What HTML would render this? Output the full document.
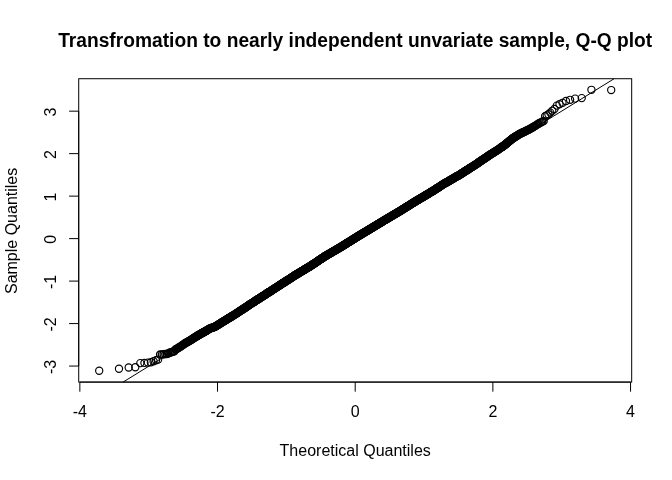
<!DOCTYPE html>
<html><head><meta charset="utf-8"><style>
html,body{margin:0;padding:0;background:#fff;overflow:hidden}
svg{display:block;filter:grayscale(1);font-family:"Liberation Sans",sans-serif}
</style></head><body>
<svg xmlns="http://www.w3.org/2000/svg" width="672" height="480" viewBox="0 0 672 480">
<rect width="672" height="480" fill="#fff"/>
<rect x="78.72" y="78.72" width="552.96" height="303.36" fill="none" stroke="#000" stroke-width="1"/><path d="M79.85 382.08H630.55M79.85 382.08V391.68M217.53 382.08V391.68M355.2 382.08V391.68M492.87 382.08V391.68M630.55 382.08V391.68" stroke="#000" stroke-width="1" fill="none"/><path d="M78.72 366.06V111.16M78.72 111.16H69.12M78.72 153.64H69.12M78.72 196.13H69.12M78.72 238.61H69.12M78.72 281.1H69.12M78.72 323.58H69.12M78.72 366.06H69.12" stroke="#000" stroke-width="1" fill="none"/><g fill="none" stroke="#000" stroke-width="1.3"><circle cx="160.13" cy="354.60" r="3.6"/><circle cx="161.97" cy="354.50" r="3.6"/><circle cx="163.69" cy="354.30" r="3.6"/><circle cx="165.29" cy="354.00" r="3.6"/><circle cx="166.79" cy="354.10" r="3.6"/><circle cx="168.21" cy="353.40" r="3.6"/><circle cx="169.56" cy="352.80" r="3.6"/><circle cx="170.84" cy="352.30" r="3.6"/><circle cx="172.05" cy="352.00" r="3.6"/><circle cx="173.22" cy="351.60" r="3.6"/><circle cx="174.33" cy="351.20" r="3.6"/><circle cx="175.40" cy="349.59" r="3.6"/><circle cx="176.42" cy="348.99" r="3.6"/><circle cx="177.41" cy="348.42" r="3.6"/><circle cx="178.36" cy="347.87" r="3.6"/><circle cx="179.28" cy="347.34" r="3.6"/><circle cx="180.17" cy="346.80" r="3.6"/><circle cx="181.03" cy="346.19" r="3.6"/><circle cx="181.86" cy="345.59" r="3.6"/><circle cx="182.67" cy="345.01" r="3.6"/><circle cx="183.46" cy="344.44" r="3.6"/><circle cx="184.23" cy="343.89" r="3.6"/><circle cx="184.97" cy="343.36" r="3.6"/><circle cx="185.69" cy="342.95" r="3.6"/><circle cx="186.40" cy="342.56" r="3.6"/><circle cx="187.09" cy="342.17" r="3.6"/><circle cx="187.76" cy="341.80" r="3.6"/><circle cx="188.42" cy="341.43" r="3.6"/><circle cx="189.06" cy="341.07" r="3.6"/><circle cx="189.69" cy="340.72" r="3.6"/><circle cx="190.31" cy="340.35" r="3.6"/><circle cx="190.91" cy="339.95" r="3.6"/><circle cx="191.50" cy="339.56" r="3.6"/><circle cx="192.07" cy="339.18" r="3.6"/><circle cx="192.64" cy="338.81" r="3.6"/><circle cx="193.20" cy="338.45" r="3.6"/><circle cx="193.74" cy="338.09" r="3.6"/><circle cx="194.28" cy="337.73" r="3.6"/><circle cx="194.80" cy="337.39" r="3.6"/><circle cx="195.32" cy="337.07" r="3.6"/><circle cx="195.83" cy="336.76" r="3.6"/><circle cx="196.33" cy="336.46" r="3.6"/><circle cx="196.82" cy="336.16" r="3.6"/><circle cx="197.30" cy="335.87" r="3.6"/><circle cx="197.78" cy="335.58" r="3.6"/><circle cx="198.24" cy="335.30" r="3.6"/><circle cx="198.70" cy="335.02" r="3.6"/><circle cx="199.16" cy="334.75" r="3.6"/><circle cx="199.61" cy="334.48" r="3.6"/><circle cx="200.05" cy="334.21" r="3.6"/><circle cx="200.48" cy="333.98" r="3.6"/><circle cx="200.91" cy="333.74" r="3.6"/><circle cx="201.33" cy="333.51" r="3.6"/><circle cx="201.75" cy="333.28" r="3.6"/><circle cx="202.16" cy="333.06" r="3.6"/><circle cx="202.57" cy="332.83" r="3.6"/><circle cx="202.97" cy="332.61" r="3.6"/><circle cx="203.36" cy="332.40" r="3.6"/><circle cx="203.75" cy="332.18" r="3.6"/><circle cx="204.14" cy="331.97" r="3.6"/><circle cx="204.52" cy="331.76" r="3.6"/><circle cx="204.90" cy="331.56" r="3.6"/><circle cx="205.27" cy="331.34" r="3.6"/><circle cx="205.64" cy="331.11" r="3.6"/><circle cx="206.00" cy="330.89" r="3.6"/><circle cx="206.36" cy="330.67" r="3.6"/><circle cx="206.71" cy="330.45" r="3.6"/><circle cx="207.07" cy="330.23" r="3.6"/><circle cx="207.41" cy="330.02" r="3.6"/><circle cx="207.76" cy="329.81" r="3.6"/><circle cx="208.43" cy="329.39" r="3.6"/><circle cx="209.10" cy="328.99" r="3.6"/><circle cx="209.75" cy="328.59" r="3.6"/><circle cx="210.38" cy="328.30" r="3.6"/><circle cx="211.01" cy="328.09" r="3.6"/><circle cx="211.62" cy="327.88" r="3.6"/><circle cx="212.23" cy="327.68" r="3.6"/><circle cx="212.82" cy="327.47" r="3.6"/><circle cx="213.40" cy="327.28" r="3.6"/><circle cx="213.97" cy="327.08" r="3.6"/><circle cx="214.53" cy="326.89" r="3.6"/><circle cx="215.08" cy="326.68" r="3.6"/><circle cx="215.63" cy="326.34" r="3.6"/><circle cx="216.16" cy="326.00" r="3.6"/><circle cx="216.69" cy="325.66" r="3.6"/><circle cx="217.21" cy="325.33" r="3.6"/><circle cx="217.72" cy="325.01" r="3.6"/><circle cx="218.22" cy="324.69" r="3.6"/><circle cx="218.72" cy="324.38" r="3.6"/><circle cx="219.21" cy="324.07" r="3.6"/><circle cx="219.69" cy="323.76" r="3.6"/><circle cx="220.16" cy="323.46" r="3.6"/><circle cx="220.63" cy="323.17" r="3.6"/><circle cx="221.10" cy="322.89" r="3.6"/><circle cx="221.56" cy="322.61" r="3.6"/><circle cx="222.01" cy="322.33" r="3.6"/><circle cx="222.45" cy="322.06" r="3.6"/><circle cx="222.89" cy="321.79" r="3.6"/><circle cx="223.33" cy="321.52" r="3.6"/><circle cx="223.76" cy="321.26" r="3.6"/><circle cx="224.18" cy="321.00" r="3.6"/><circle cx="224.60" cy="320.74" r="3.6"/><circle cx="225.02" cy="320.48" r="3.6"/><circle cx="225.43" cy="320.23" r="3.6"/><circle cx="225.83" cy="319.98" r="3.6"/><circle cx="226.23" cy="319.74" r="3.6"/><circle cx="226.63" cy="319.49" r="3.6"/><circle cx="227.02" cy="319.25" r="3.6"/><circle cx="227.41" cy="319.01" r="3.6"/><circle cx="227.80" cy="318.78" r="3.6"/><circle cx="228.18" cy="318.54" r="3.6"/><circle cx="228.56" cy="318.31" r="3.6"/><circle cx="228.93" cy="318.08" r="3.6"/><circle cx="229.30" cy="317.86" r="3.6"/><circle cx="229.66" cy="317.63" r="3.6"/><circle cx="230.03" cy="317.41" r="3.6"/><circle cx="230.39" cy="317.19" r="3.6"/><circle cx="230.74" cy="316.97" r="3.6"/><circle cx="231.09" cy="316.75" r="3.6"/><circle cx="231.44" cy="316.54" r="3.6"/><circle cx="231.79" cy="316.33" r="3.6"/><circle cx="232.13" cy="316.12" r="3.6"/><circle cx="232.64" cy="315.81" r="3.6"/><circle cx="233.14" cy="315.50" r="3.6"/><circle cx="233.64" cy="315.19" r="3.6"/><circle cx="234.13" cy="314.89" r="3.6"/><circle cx="234.61" cy="314.60" r="3.6"/><circle cx="235.09" cy="314.30" r="3.6"/><circle cx="235.56" cy="313.99" r="3.6"/><circle cx="236.02" cy="313.68" r="3.6"/><circle cx="236.48" cy="313.37" r="3.6"/><circle cx="236.94" cy="313.07" r="3.6"/><circle cx="237.39" cy="312.77" r="3.6"/><circle cx="237.84" cy="312.47" r="3.6"/><circle cx="238.28" cy="312.18" r="3.6"/><circle cx="238.71" cy="311.89" r="3.6"/><circle cx="239.14" cy="311.60" r="3.6"/><circle cx="239.57" cy="311.32" r="3.6"/><circle cx="239.99" cy="311.04" r="3.6"/><circle cx="240.41" cy="310.76" r="3.6"/><circle cx="240.82" cy="310.49" r="3.6"/><circle cx="241.23" cy="310.21" r="3.6"/><circle cx="241.64" cy="309.94" r="3.6"/><circle cx="242.04" cy="309.68" r="3.6"/><circle cx="242.44" cy="309.41" r="3.6"/><circle cx="242.83" cy="309.15" r="3.6"/><circle cx="243.22" cy="308.89" r="3.6"/><circle cx="243.61" cy="308.63" r="3.6"/><circle cx="243.99" cy="308.38" r="3.6"/><circle cx="244.37" cy="308.13" r="3.6"/><circle cx="244.75" cy="307.88" r="3.6"/><circle cx="245.12" cy="307.63" r="3.6"/><circle cx="245.49" cy="307.38" r="3.6"/><circle cx="245.86" cy="307.14" r="3.6"/><circle cx="246.23" cy="306.90" r="3.6"/><circle cx="246.59" cy="306.66" r="3.6"/><circle cx="246.94" cy="306.42" r="3.6"/><circle cx="247.30" cy="306.18" r="3.6"/><circle cx="247.65" cy="305.95" r="3.6"/><circle cx="248.00" cy="305.72" r="3.6"/><circle cx="248.35" cy="305.49" r="3.6"/><circle cx="248.69" cy="305.26" r="3.6"/><circle cx="249.03" cy="305.03" r="3.6"/><circle cx="249.37" cy="304.81" r="3.6"/><circle cx="249.71" cy="304.58" r="3.6"/><circle cx="250.04" cy="304.36" r="3.6"/><circle cx="250.48" cy="304.08" r="3.6"/><circle cx="250.92" cy="303.80" r="3.6"/><circle cx="251.35" cy="303.52" r="3.6"/><circle cx="251.78" cy="303.24" r="3.6"/><circle cx="252.21" cy="302.97" r="3.6"/><circle cx="252.63" cy="302.69" r="3.6"/><circle cx="253.04" cy="302.43" r="3.6"/><circle cx="253.46" cy="302.16" r="3.6"/><circle cx="253.87" cy="301.89" r="3.6"/><circle cx="254.27" cy="301.63" r="3.6"/><circle cx="254.68" cy="301.37" r="3.6"/><circle cx="255.08" cy="301.12" r="3.6"/><circle cx="255.47" cy="300.86" r="3.6"/><circle cx="255.86" cy="300.61" r="3.6"/><circle cx="256.25" cy="300.36" r="3.6"/><circle cx="256.64" cy="300.11" r="3.6"/><circle cx="257.02" cy="299.86" r="3.6"/><circle cx="257.40" cy="299.62" r="3.6"/><circle cx="257.78" cy="299.37" r="3.6"/><circle cx="258.15" cy="299.13" r="3.6"/><circle cx="258.53" cy="298.89" r="3.6"/><circle cx="258.89" cy="298.65" r="3.6"/><circle cx="259.26" cy="298.42" r="3.6"/><circle cx="259.62" cy="298.18" r="3.6"/><circle cx="259.98" cy="297.95" r="3.6"/><circle cx="260.34" cy="297.72" r="3.6"/><circle cx="260.70" cy="297.49" r="3.6"/><circle cx="261.05" cy="297.26" r="3.6"/><circle cx="261.40" cy="297.04" r="3.6"/><circle cx="261.75" cy="296.81" r="3.6"/><circle cx="262.10" cy="296.59" r="3.6"/><circle cx="262.44" cy="296.37" r="3.6"/><circle cx="262.78" cy="296.15" r="3.6"/><circle cx="263.12" cy="295.93" r="3.6"/><circle cx="263.46" cy="295.71" r="3.6"/><circle cx="263.87" cy="295.44" r="3.6"/><circle cx="264.29" cy="295.18" r="3.6"/><circle cx="264.70" cy="294.91" r="3.6"/><circle cx="265.11" cy="294.65" r="3.6"/><circle cx="265.51" cy="294.39" r="3.6"/><circle cx="265.91" cy="294.13" r="3.6"/><circle cx="266.31" cy="293.87" r="3.6"/><circle cx="266.71" cy="293.62" r="3.6"/><circle cx="267.10" cy="293.36" r="3.6"/><circle cx="267.49" cy="293.11" r="3.6"/><circle cx="267.88" cy="292.86" r="3.6"/><circle cx="268.26" cy="292.61" r="3.6"/><circle cx="268.64" cy="292.37" r="3.6"/><circle cx="269.02" cy="292.12" r="3.6"/><circle cx="269.40" cy="291.88" r="3.6"/><circle cx="269.77" cy="291.64" r="3.6"/><circle cx="270.14" cy="291.40" r="3.6"/><circle cx="270.51" cy="291.16" r="3.6"/><circle cx="270.88" cy="290.92" r="3.6"/><circle cx="271.24" cy="290.69" r="3.6"/><circle cx="271.61" cy="290.46" r="3.6"/><circle cx="271.97" cy="290.22" r="3.6"/><circle cx="272.32" cy="289.99" r="3.6"/><circle cx="272.68" cy="289.77" r="3.6"/><circle cx="273.03" cy="289.54" r="3.6"/><circle cx="273.38" cy="289.31" r="3.6"/><circle cx="273.73" cy="289.09" r="3.6"/><circle cx="274.08" cy="288.86" r="3.6"/><circle cx="274.42" cy="288.64" r="3.6"/><circle cx="274.76" cy="288.42" r="3.6"/><circle cx="275.10" cy="288.20" r="3.6"/><circle cx="275.44" cy="287.98" r="3.6"/><circle cx="275.78" cy="287.77" r="3.6"/><circle cx="276.18" cy="287.51" r="3.6"/><circle cx="276.58" cy="287.25" r="3.6"/><circle cx="276.98" cy="286.99" r="3.6"/><circle cx="277.37" cy="286.74" r="3.6"/><circle cx="277.76" cy="286.49" r="3.6"/><circle cx="278.15" cy="286.24" r="3.6"/><circle cx="278.54" cy="285.99" r="3.6"/><circle cx="278.92" cy="285.74" r="3.6"/><circle cx="279.30" cy="285.50" r="3.6"/><circle cx="279.68" cy="285.25" r="3.6"/><circle cx="280.06" cy="285.01" r="3.6"/><circle cx="280.43" cy="284.76" r="3.6"/><circle cx="280.80" cy="284.52" r="3.6"/><circle cx="281.17" cy="284.28" r="3.6"/><circle cx="281.54" cy="284.04" r="3.6"/><circle cx="281.91" cy="283.81" r="3.6"/><circle cx="282.27" cy="283.57" r="3.6"/><circle cx="282.63" cy="283.33" r="3.6"/><circle cx="282.99" cy="283.10" r="3.6"/><circle cx="283.35" cy="282.87" r="3.6"/><circle cx="283.71" cy="282.64" r="3.6"/><circle cx="284.06" cy="282.41" r="3.6"/><circle cx="284.41" cy="282.18" r="3.6"/><circle cx="284.76" cy="281.95" r="3.6"/><circle cx="285.11" cy="281.72" r="3.6"/><circle cx="285.46" cy="281.50" r="3.6"/><circle cx="285.80" cy="281.28" r="3.6"/><circle cx="286.15" cy="281.05" r="3.6"/><circle cx="286.49" cy="280.83" r="3.6"/><circle cx="286.83" cy="280.61" r="3.6"/><circle cx="287.17" cy="280.39" r="3.6"/><circle cx="287.50" cy="280.17" r="3.6"/><circle cx="287.90" cy="279.92" r="3.6"/><circle cx="288.28" cy="279.67" r="3.6"/><circle cx="288.67" cy="279.42" r="3.6"/><circle cx="289.05" cy="279.17" r="3.6"/><circle cx="289.44" cy="278.92" r="3.6"/><circle cx="289.82" cy="278.67" r="3.6"/><circle cx="290.20" cy="278.43" r="3.6"/><circle cx="290.57" cy="278.18" r="3.6"/><circle cx="290.95" cy="277.94" r="3.6"/><circle cx="291.32" cy="277.70" r="3.6"/><circle cx="291.69" cy="277.46" r="3.6"/><circle cx="292.06" cy="277.22" r="3.6"/><circle cx="292.43" cy="276.98" r="3.6"/><circle cx="292.79" cy="276.74" r="3.6"/><circle cx="293.15" cy="276.51" r="3.6"/><circle cx="293.52" cy="276.27" r="3.6"/><circle cx="293.88" cy="276.04" r="3.6"/><circle cx="294.23" cy="275.80" r="3.6"/><circle cx="294.59" cy="275.57" r="3.6"/><circle cx="294.95" cy="275.34" r="3.6"/><circle cx="295.30" cy="275.13" r="3.6"/><circle cx="295.65" cy="274.91" r="3.6"/><circle cx="296.00" cy="274.70" r="3.6"/><circle cx="296.35" cy="274.49" r="3.6"/><circle cx="296.70" cy="274.28" r="3.6"/><circle cx="297.04" cy="274.08" r="3.6"/><circle cx="297.39" cy="273.87" r="3.6"/><circle cx="297.73" cy="273.66" r="3.6"/><circle cx="298.12" cy="273.43" r="3.6"/><circle cx="298.51" cy="273.19" r="3.6"/><circle cx="298.90" cy="272.96" r="3.6"/><circle cx="299.28" cy="272.73" r="3.6"/><circle cx="299.66" cy="272.50" r="3.6"/><circle cx="300.05" cy="272.27" r="3.6"/><circle cx="300.43" cy="272.04" r="3.6"/><circle cx="300.80" cy="271.81" r="3.6"/><circle cx="301.18" cy="271.58" r="3.6"/><circle cx="301.56" cy="271.36" r="3.6"/><circle cx="301.93" cy="271.13" r="3.6"/><circle cx="302.30" cy="270.91" r="3.6"/><circle cx="302.67" cy="270.69" r="3.6"/><circle cx="303.04" cy="270.46" r="3.6"/><circle cx="303.41" cy="270.24" r="3.6"/><circle cx="303.77" cy="270.02" r="3.6"/><circle cx="304.14" cy="269.80" r="3.6"/><circle cx="304.50" cy="269.58" r="3.6"/><circle cx="304.86" cy="269.37" r="3.6"/><circle cx="305.22" cy="269.15" r="3.6"/><circle cx="305.58" cy="268.93" r="3.6"/><circle cx="305.94" cy="268.72" r="3.6"/><circle cx="306.29" cy="268.50" r="3.6"/><circle cx="306.65" cy="268.29" r="3.6"/><circle cx="307.00" cy="268.08" r="3.6"/><circle cx="307.35" cy="267.86" r="3.6"/><circle cx="307.70" cy="267.65" r="3.6"/><circle cx="308.05" cy="267.44" r="3.6"/><circle cx="308.40" cy="267.23" r="3.6"/><circle cx="308.75" cy="267.02" r="3.6"/><circle cx="309.09" cy="266.81" r="3.6"/><circle cx="309.44" cy="266.61" r="3.6"/><circle cx="309.78" cy="266.40" r="3.6"/><circle cx="310.13" cy="266.19" r="3.6"/><circle cx="310.47" cy="265.96" r="3.6"/><circle cx="310.81" cy="265.73" r="3.6"/><circle cx="311.15" cy="265.50" r="3.6"/><circle cx="311.49" cy="265.28" r="3.6"/><circle cx="311.82" cy="265.05" r="3.6"/><circle cx="312.16" cy="264.83" r="3.6"/><circle cx="312.49" cy="264.61" r="3.6"/><circle cx="312.83" cy="264.38" r="3.6"/><circle cx="313.16" cy="264.16" r="3.6"/><circle cx="313.54" cy="263.91" r="3.6"/><circle cx="313.91" cy="263.66" r="3.6"/><circle cx="314.28" cy="263.42" r="3.6"/><circle cx="314.65" cy="263.17" r="3.6"/><circle cx="315.02" cy="262.93" r="3.6"/><circle cx="315.39" cy="262.68" r="3.6"/><circle cx="315.75" cy="262.44" r="3.6"/><circle cx="316.12" cy="262.19" r="3.6"/><circle cx="316.48" cy="261.95" r="3.6"/><circle cx="316.85" cy="261.71" r="3.6"/><circle cx="317.21" cy="261.47" r="3.6"/><circle cx="317.57" cy="261.23" r="3.6"/><circle cx="317.93" cy="260.99" r="3.6"/><circle cx="318.29" cy="260.75" r="3.6"/><circle cx="318.65" cy="260.51" r="3.6"/><circle cx="319.00" cy="260.27" r="3.6"/><circle cx="319.36" cy="260.03" r="3.6"/><circle cx="319.71" cy="259.79" r="3.6"/><circle cx="320.07" cy="259.56" r="3.6"/><circle cx="320.42" cy="259.32" r="3.6"/><circle cx="320.77" cy="259.09" r="3.6"/><circle cx="321.13" cy="258.85" r="3.6"/><circle cx="321.48" cy="258.62" r="3.6"/><circle cx="321.83" cy="258.39" r="3.6"/><circle cx="322.18" cy="258.15" r="3.6"/><circle cx="322.52" cy="257.92" r="3.6"/><circle cx="322.87" cy="257.69" r="3.6"/><circle cx="323.22" cy="257.46" r="3.6"/><circle cx="323.56" cy="257.23" r="3.6"/><circle cx="323.91" cy="257.00" r="3.6"/><circle cx="324.25" cy="256.77" r="3.6"/><circle cx="324.59" cy="256.54" r="3.6"/><circle cx="324.94" cy="256.31" r="3.6"/><circle cx="325.32" cy="256.09" r="3.6"/><circle cx="325.70" cy="255.87" r="3.6"/><circle cx="326.07" cy="255.64" r="3.6"/><circle cx="326.45" cy="255.42" r="3.6"/><circle cx="326.83" cy="255.20" r="3.6"/><circle cx="327.20" cy="254.99" r="3.6"/><circle cx="327.58" cy="254.77" r="3.6"/><circle cx="327.95" cy="254.55" r="3.6"/><circle cx="328.32" cy="254.33" r="3.6"/><circle cx="328.69" cy="254.11" r="3.6"/><circle cx="329.07" cy="253.90" r="3.6"/><circle cx="329.44" cy="253.68" r="3.6"/><circle cx="329.81" cy="253.46" r="3.6"/><circle cx="330.18" cy="253.25" r="3.6"/><circle cx="330.54" cy="253.03" r="3.6"/><circle cx="330.91" cy="252.82" r="3.6"/><circle cx="331.28" cy="252.60" r="3.6"/><circle cx="331.64" cy="252.39" r="3.6"/><circle cx="332.01" cy="252.18" r="3.6"/><circle cx="332.37" cy="251.96" r="3.6"/><circle cx="332.74" cy="251.75" r="3.6"/><circle cx="333.10" cy="251.54" r="3.6"/><circle cx="333.47" cy="251.32" r="3.6"/><circle cx="333.83" cy="251.11" r="3.6"/><circle cx="334.19" cy="250.90" r="3.6"/><circle cx="334.55" cy="250.69" r="3.6"/><circle cx="334.91" cy="250.48" r="3.6"/><circle cx="335.27" cy="250.27" r="3.6"/><circle cx="335.63" cy="250.06" r="3.6"/><circle cx="335.99" cy="249.85" r="3.6"/><circle cx="336.35" cy="249.64" r="3.6"/><circle cx="336.71" cy="249.43" r="3.6"/><circle cx="337.06" cy="249.22" r="3.6"/><circle cx="337.42" cy="249.01" r="3.6"/><circle cx="337.78" cy="248.80" r="3.6"/><circle cx="338.13" cy="248.60" r="3.6"/><circle cx="338.49" cy="248.39" r="3.6"/><circle cx="338.85" cy="248.18" r="3.6"/><circle cx="339.20" cy="247.97" r="3.6"/><circle cx="339.55" cy="247.77" r="3.6"/><circle cx="339.91" cy="247.56" r="3.6"/><circle cx="340.26" cy="247.34" r="3.6"/><circle cx="340.61" cy="247.12" r="3.6"/><circle cx="340.97" cy="246.90" r="3.6"/><circle cx="341.32" cy="246.68" r="3.6"/><circle cx="341.67" cy="246.46" r="3.6"/><circle cx="342.02" cy="246.24" r="3.6"/><circle cx="342.37" cy="246.02" r="3.6"/><circle cx="342.73" cy="245.80" r="3.6"/><circle cx="343.08" cy="245.58" r="3.6"/><circle cx="343.43" cy="245.37" r="3.6"/><circle cx="343.78" cy="245.15" r="3.6"/><circle cx="344.13" cy="244.93" r="3.6"/><circle cx="344.48" cy="244.71" r="3.6"/><circle cx="344.83" cy="244.49" r="3.6"/><circle cx="345.17" cy="244.27" r="3.6"/><circle cx="345.52" cy="244.06" r="3.6"/><circle cx="345.87" cy="243.84" r="3.6"/><circle cx="346.22" cy="243.62" r="3.6"/><circle cx="346.57" cy="243.40" r="3.6"/><circle cx="346.92" cy="243.19" r="3.6"/><circle cx="347.26" cy="242.97" r="3.6"/><circle cx="347.61" cy="242.75" r="3.6"/><circle cx="347.96" cy="242.54" r="3.6"/><circle cx="348.30" cy="242.32" r="3.6"/><circle cx="348.65" cy="242.10" r="3.6"/><circle cx="349.00" cy="241.89" r="3.6"/><circle cx="349.34" cy="241.67" r="3.6"/><circle cx="349.69" cy="241.46" r="3.6"/><circle cx="350.04" cy="241.24" r="3.6"/><circle cx="350.38" cy="241.02" r="3.6"/><circle cx="350.73" cy="240.81" r="3.6"/><circle cx="351.07" cy="240.59" r="3.6"/><circle cx="351.42" cy="240.38" r="3.6"/><circle cx="351.76" cy="240.16" r="3.6"/><circle cx="352.11" cy="239.94" r="3.6"/><circle cx="352.46" cy="239.73" r="3.6"/><circle cx="352.80" cy="239.51" r="3.6"/><circle cx="353.15" cy="239.30" r="3.6"/><circle cx="353.49" cy="239.08" r="3.6"/><circle cx="353.84" cy="238.87" r="3.6"/><circle cx="354.18" cy="238.65" r="3.6"/><circle cx="354.53" cy="238.44" r="3.6"/><circle cx="354.87" cy="238.22" r="3.6"/><circle cx="355.22" cy="238.00" r="3.6"/><circle cx="355.56" cy="237.79" r="3.6"/><circle cx="355.91" cy="237.57" r="3.6"/><circle cx="356.25" cy="237.36" r="3.6"/><circle cx="356.60" cy="237.14" r="3.6"/><circle cx="356.94" cy="236.93" r="3.6"/><circle cx="357.29" cy="236.71" r="3.6"/><circle cx="357.63" cy="236.50" r="3.6"/><circle cx="357.98" cy="236.28" r="3.6"/><circle cx="358.32" cy="236.06" r="3.6"/><circle cx="358.67" cy="235.85" r="3.6"/><circle cx="359.02" cy="235.63" r="3.6"/><circle cx="359.36" cy="235.42" r="3.6"/><circle cx="359.71" cy="235.20" r="3.6"/><circle cx="360.05" cy="234.99" r="3.6"/><circle cx="360.40" cy="234.78" r="3.6"/><circle cx="360.74" cy="234.57" r="3.6"/><circle cx="361.09" cy="234.37" r="3.6"/><circle cx="361.44" cy="234.16" r="3.6"/><circle cx="361.78" cy="233.95" r="3.6"/><circle cx="362.13" cy="233.75" r="3.6"/><circle cx="362.48" cy="233.54" r="3.6"/><circle cx="362.82" cy="233.33" r="3.6"/><circle cx="363.17" cy="233.13" r="3.6"/><circle cx="363.52" cy="232.92" r="3.6"/><circle cx="363.87" cy="232.71" r="3.6"/><circle cx="364.22" cy="232.50" r="3.6"/><circle cx="364.56" cy="232.29" r="3.6"/><circle cx="364.91" cy="232.09" r="3.6"/><circle cx="365.26" cy="231.88" r="3.6"/><circle cx="365.61" cy="231.67" r="3.6"/><circle cx="365.96" cy="231.46" r="3.6"/><circle cx="366.31" cy="231.25" r="3.6"/><circle cx="366.66" cy="231.04" r="3.6"/><circle cx="367.01" cy="230.84" r="3.6"/><circle cx="367.36" cy="230.63" r="3.6"/><circle cx="367.71" cy="230.42" r="3.6"/><circle cx="368.06" cy="230.21" r="3.6"/><circle cx="368.41" cy="230.00" r="3.6"/><circle cx="368.76" cy="229.79" r="3.6"/><circle cx="369.12" cy="229.58" r="3.6"/><circle cx="369.47" cy="229.37" r="3.6"/><circle cx="369.82" cy="229.16" r="3.6"/><circle cx="370.17" cy="228.94" r="3.6"/><circle cx="370.53" cy="228.73" r="3.6"/><circle cx="370.88" cy="228.52" r="3.6"/><circle cx="371.24" cy="228.30" r="3.6"/><circle cx="371.59" cy="228.08" r="3.6"/><circle cx="371.95" cy="227.87" r="3.6"/><circle cx="372.30" cy="227.65" r="3.6"/><circle cx="372.66" cy="227.44" r="3.6"/><circle cx="373.01" cy="227.22" r="3.6"/><circle cx="373.37" cy="227.00" r="3.6"/><circle cx="373.73" cy="226.79" r="3.6"/><circle cx="374.09" cy="226.57" r="3.6"/><circle cx="374.45" cy="226.35" r="3.6"/><circle cx="374.80" cy="226.13" r="3.6"/><circle cx="375.16" cy="225.91" r="3.6"/><circle cx="375.52" cy="225.70" r="3.6"/><circle cx="375.89" cy="225.48" r="3.6"/><circle cx="376.25" cy="225.26" r="3.6"/><circle cx="376.61" cy="225.04" r="3.6"/><circle cx="376.97" cy="224.82" r="3.6"/><circle cx="377.33" cy="224.60" r="3.6"/><circle cx="377.70" cy="224.38" r="3.6"/><circle cx="378.06" cy="224.16" r="3.6"/><circle cx="378.43" cy="223.93" r="3.6"/><circle cx="378.79" cy="223.71" r="3.6"/><circle cx="379.16" cy="223.49" r="3.6"/><circle cx="379.53" cy="223.27" r="3.6"/><circle cx="379.89" cy="223.04" r="3.6"/><circle cx="380.26" cy="222.82" r="3.6"/><circle cx="380.63" cy="222.60" r="3.6"/><circle cx="381.00" cy="222.37" r="3.6"/><circle cx="381.37" cy="222.15" r="3.6"/><circle cx="381.74" cy="221.92" r="3.6"/><circle cx="382.11" cy="221.69" r="3.6"/><circle cx="382.49" cy="221.47" r="3.6"/><circle cx="382.86" cy="221.24" r="3.6"/><circle cx="383.24" cy="221.01" r="3.6"/><circle cx="383.61" cy="220.79" r="3.6"/><circle cx="383.99" cy="220.56" r="3.6"/><circle cx="384.36" cy="220.33" r="3.6"/><circle cx="384.74" cy="220.10" r="3.6"/><circle cx="385.12" cy="219.87" r="3.6"/><circle cx="385.50" cy="219.65" r="3.6"/><circle cx="385.88" cy="219.42" r="3.6"/><circle cx="386.26" cy="219.19" r="3.6"/><circle cx="386.61" cy="218.99" r="3.6"/><circle cx="386.95" cy="218.78" r="3.6"/><circle cx="387.30" cy="218.58" r="3.6"/><circle cx="387.65" cy="218.37" r="3.6"/><circle cx="387.99" cy="218.17" r="3.6"/><circle cx="388.34" cy="217.96" r="3.6"/><circle cx="388.69" cy="217.75" r="3.6"/><circle cx="389.04" cy="217.55" r="3.6"/><circle cx="389.39" cy="217.34" r="3.6"/><circle cx="389.74" cy="217.13" r="3.6"/><circle cx="390.10" cy="216.92" r="3.6"/><circle cx="390.45" cy="216.71" r="3.6"/><circle cx="390.80" cy="216.50" r="3.6"/><circle cx="391.16" cy="216.29" r="3.6"/><circle cx="391.52" cy="216.08" r="3.6"/><circle cx="391.87" cy="215.87" r="3.6"/><circle cx="392.23" cy="215.65" r="3.6"/><circle cx="392.59" cy="215.44" r="3.6"/><circle cx="392.95" cy="215.23" r="3.6"/><circle cx="393.31" cy="215.01" r="3.6"/><circle cx="393.68" cy="214.80" r="3.6"/><circle cx="394.04" cy="214.58" r="3.6"/><circle cx="394.40" cy="214.36" r="3.6"/><circle cx="394.77" cy="214.15" r="3.6"/><circle cx="395.14" cy="213.93" r="3.6"/><circle cx="395.51" cy="213.71" r="3.6"/><circle cx="395.87" cy="213.49" r="3.6"/><circle cx="396.24" cy="213.27" r="3.6"/><circle cx="396.62" cy="213.05" r="3.6"/><circle cx="396.99" cy="212.83" r="3.6"/><circle cx="397.36" cy="212.61" r="3.6"/><circle cx="397.74" cy="212.39" r="3.6"/><circle cx="398.12" cy="212.16" r="3.6"/><circle cx="398.49" cy="211.94" r="3.6"/><circle cx="398.87" cy="211.71" r="3.6"/><circle cx="399.25" cy="211.49" r="3.6"/><circle cx="399.63" cy="211.26" r="3.6"/><circle cx="400.02" cy="211.03" r="3.6"/><circle cx="400.36" cy="210.82" r="3.6"/><circle cx="400.70" cy="210.61" r="3.6"/><circle cx="401.05" cy="210.39" r="3.6"/><circle cx="401.39" cy="210.17" r="3.6"/><circle cx="401.74" cy="209.96" r="3.6"/><circle cx="402.09" cy="209.74" r="3.6"/><circle cx="402.43" cy="209.52" r="3.6"/><circle cx="402.78" cy="209.30" r="3.6"/><circle cx="403.14" cy="209.08" r="3.6"/><circle cx="403.49" cy="208.86" r="3.6"/><circle cx="403.84" cy="208.64" r="3.6"/><circle cx="404.20" cy="208.41" r="3.6"/><circle cx="404.55" cy="208.19" r="3.6"/><circle cx="404.91" cy="207.97" r="3.6"/><circle cx="405.27" cy="207.74" r="3.6"/><circle cx="405.63" cy="207.51" r="3.6"/><circle cx="405.99" cy="207.29" r="3.6"/><circle cx="406.35" cy="207.06" r="3.6"/><circle cx="406.72" cy="206.83" r="3.6"/><circle cx="407.09" cy="206.60" r="3.6"/><circle cx="407.45" cy="206.37" r="3.6"/><circle cx="407.82" cy="206.14" r="3.6"/><circle cx="408.19" cy="205.91" r="3.6"/><circle cx="408.56" cy="205.67" r="3.6"/><circle cx="408.94" cy="205.44" r="3.6"/><circle cx="409.31" cy="205.20" r="3.6"/><circle cx="409.69" cy="204.97" r="3.6"/><circle cx="410.07" cy="204.73" r="3.6"/><circle cx="410.45" cy="204.49" r="3.6"/><circle cx="410.83" cy="204.25" r="3.6"/><circle cx="411.21" cy="204.01" r="3.6"/><circle cx="411.60" cy="203.77" r="3.6"/><circle cx="411.99" cy="203.53" r="3.6"/><circle cx="412.33" cy="203.31" r="3.6"/><circle cx="412.67" cy="203.10" r="3.6"/><circle cx="413.01" cy="202.89" r="3.6"/><circle cx="413.36" cy="202.67" r="3.6"/><circle cx="413.70" cy="202.45" r="3.6"/><circle cx="414.05" cy="202.23" r="3.6"/><circle cx="414.40" cy="202.02" r="3.6"/><circle cx="414.75" cy="201.80" r="3.6"/><circle cx="415.10" cy="201.58" r="3.6"/><circle cx="415.45" cy="201.37" r="3.6"/><circle cx="415.81" cy="201.16" r="3.6"/><circle cx="416.17" cy="200.95" r="3.6"/><circle cx="416.52" cy="200.73" r="3.6"/><circle cx="416.88" cy="200.52" r="3.6"/><circle cx="417.25" cy="200.30" r="3.6"/><circle cx="417.61" cy="200.09" r="3.6"/><circle cx="417.97" cy="199.87" r="3.6"/><circle cx="418.34" cy="199.65" r="3.6"/><circle cx="418.71" cy="199.43" r="3.6"/><circle cx="419.08" cy="199.21" r="3.6"/><circle cx="419.45" cy="198.99" r="3.6"/><circle cx="419.83" cy="198.77" r="3.6"/><circle cx="420.20" cy="198.55" r="3.6"/><circle cx="420.58" cy="198.32" r="3.6"/><circle cx="420.96" cy="198.10" r="3.6"/><circle cx="421.35" cy="197.87" r="3.6"/><circle cx="421.73" cy="197.64" r="3.6"/><circle cx="422.12" cy="197.41" r="3.6"/><circle cx="422.50" cy="197.18" r="3.6"/><circle cx="422.90" cy="196.95" r="3.6"/><circle cx="423.29" cy="196.72" r="3.6"/><circle cx="423.68" cy="196.48" r="3.6"/><circle cx="424.08" cy="196.25" r="3.6"/><circle cx="424.48" cy="196.01" r="3.6"/><circle cx="424.82" cy="195.80" r="3.6"/><circle cx="425.17" cy="195.60" r="3.6"/><circle cx="425.52" cy="195.39" r="3.6"/><circle cx="425.87" cy="195.18" r="3.6"/><circle cx="426.22" cy="194.98" r="3.6"/><circle cx="426.57" cy="194.77" r="3.6"/><circle cx="426.93" cy="194.55" r="3.6"/><circle cx="427.29" cy="194.34" r="3.6"/><circle cx="427.65" cy="194.13" r="3.6"/><circle cx="428.01" cy="193.91" r="3.6"/><circle cx="428.37" cy="193.70" r="3.6"/><circle cx="428.74" cy="193.48" r="3.6"/><circle cx="429.10" cy="193.26" r="3.6"/><circle cx="429.47" cy="193.04" r="3.6"/><circle cx="429.84" cy="192.82" r="3.6"/><circle cx="430.22" cy="192.59" r="3.6"/><circle cx="430.59" cy="192.35" r="3.6"/><circle cx="430.97" cy="192.11" r="3.6"/><circle cx="431.35" cy="191.87" r="3.6"/><circle cx="431.74" cy="191.63" r="3.6"/><circle cx="432.12" cy="191.38" r="3.6"/><circle cx="432.51" cy="191.14" r="3.6"/><circle cx="432.90" cy="190.89" r="3.6"/><circle cx="433.29" cy="190.64" r="3.6"/><circle cx="433.69" cy="190.39" r="3.6"/><circle cx="434.09" cy="190.14" r="3.6"/><circle cx="434.49" cy="189.88" r="3.6"/><circle cx="434.89" cy="189.63" r="3.6"/><circle cx="435.23" cy="189.41" r="3.6"/><circle cx="435.57" cy="189.20" r="3.6"/><circle cx="435.91" cy="188.98" r="3.6"/><circle cx="436.25" cy="188.76" r="3.6"/><circle cx="436.60" cy="188.54" r="3.6"/><circle cx="436.95" cy="188.32" r="3.6"/><circle cx="437.30" cy="188.10" r="3.6"/><circle cx="437.65" cy="187.88" r="3.6"/><circle cx="438.01" cy="187.65" r="3.6"/><circle cx="438.36" cy="187.42" r="3.6"/><circle cx="438.72" cy="187.20" r="3.6"/><circle cx="439.08" cy="186.97" r="3.6"/><circle cx="439.45" cy="186.74" r="3.6"/><circle cx="439.81" cy="186.50" r="3.6"/><circle cx="440.18" cy="186.27" r="3.6"/><circle cx="440.55" cy="186.04" r="3.6"/><circle cx="440.93" cy="185.80" r="3.6"/><circle cx="441.30" cy="185.56" r="3.6"/><circle cx="441.68" cy="185.32" r="3.6"/><circle cx="442.06" cy="185.08" r="3.6"/><circle cx="442.45" cy="184.83" r="3.6"/><circle cx="442.83" cy="184.59" r="3.6"/><circle cx="443.22" cy="184.34" r="3.6"/><circle cx="443.61" cy="184.09" r="3.6"/><circle cx="444.01" cy="183.84" r="3.6"/><circle cx="444.41" cy="183.59" r="3.6"/><circle cx="444.81" cy="183.34" r="3.6"/><circle cx="445.21" cy="183.09" r="3.6"/><circle cx="445.62" cy="182.85" r="3.6"/><circle cx="446.03" cy="182.62" r="3.6"/><circle cx="446.44" cy="182.38" r="3.6"/><circle cx="446.86" cy="182.14" r="3.6"/><circle cx="447.28" cy="181.89" r="3.6"/><circle cx="447.71" cy="181.65" r="3.6"/><circle cx="448.13" cy="181.40" r="3.6"/><circle cx="448.56" cy="181.15" r="3.6"/><circle cx="448.91" cy="180.95" r="3.6"/><circle cx="449.26" cy="180.75" r="3.6"/><circle cx="449.61" cy="180.54" r="3.6"/><circle cx="449.97" cy="180.34" r="3.6"/><circle cx="450.33" cy="180.13" r="3.6"/><circle cx="450.69" cy="179.92" r="3.6"/><circle cx="451.05" cy="179.71" r="3.6"/><circle cx="451.41" cy="179.50" r="3.6"/><circle cx="451.78" cy="179.29" r="3.6"/><circle cx="452.15" cy="179.07" r="3.6"/><circle cx="452.53" cy="178.86" r="3.6"/><circle cx="452.90" cy="178.64" r="3.6"/><circle cx="453.28" cy="178.42" r="3.6"/><circle cx="453.66" cy="178.20" r="3.6"/><circle cx="454.05" cy="177.97" r="3.6"/><circle cx="454.44" cy="177.75" r="3.6"/><circle cx="454.83" cy="177.52" r="3.6"/><circle cx="455.23" cy="177.29" r="3.6"/><circle cx="455.62" cy="177.06" r="3.6"/><circle cx="456.03" cy="176.83" r="3.6"/><circle cx="456.43" cy="176.59" r="3.6"/><circle cx="456.84" cy="176.36" r="3.6"/><circle cx="457.25" cy="176.12" r="3.6"/><circle cx="457.67" cy="175.88" r="3.6"/><circle cx="458.09" cy="175.63" r="3.6"/><circle cx="458.51" cy="175.39" r="3.6"/><circle cx="458.94" cy="175.14" r="3.6"/><circle cx="459.37" cy="174.89" r="3.6"/><circle cx="459.81" cy="174.64" r="3.6"/><circle cx="460.25" cy="174.37" r="3.6"/><circle cx="460.69" cy="174.09" r="3.6"/><circle cx="461.14" cy="173.80" r="3.6"/><circle cx="461.48" cy="173.59" r="3.6"/><circle cx="461.82" cy="173.37" r="3.6"/><circle cx="462.17" cy="173.15" r="3.6"/><circle cx="462.52" cy="172.93" r="3.6"/><circle cx="462.87" cy="172.70" r="3.6"/><circle cx="463.22" cy="172.48" r="3.6"/><circle cx="463.57" cy="172.25" r="3.6"/><circle cx="463.93" cy="172.03" r="3.6"/><circle cx="464.30" cy="171.80" r="3.6"/><circle cx="464.66" cy="171.56" r="3.6"/><circle cx="465.03" cy="171.33" r="3.6"/><circle cx="465.40" cy="171.09" r="3.6"/><circle cx="465.77" cy="170.85" r="3.6"/><circle cx="466.15" cy="170.61" r="3.6"/><circle cx="466.53" cy="170.37" r="3.6"/><circle cx="466.92" cy="170.13" r="3.6"/><circle cx="467.31" cy="169.88" r="3.6"/><circle cx="467.70" cy="169.63" r="3.6"/><circle cx="468.09" cy="169.38" r="3.6"/><circle cx="468.49" cy="169.13" r="3.6"/><circle cx="468.90" cy="168.87" r="3.6"/><circle cx="469.30" cy="168.61" r="3.6"/><circle cx="469.71" cy="168.35" r="3.6"/><circle cx="470.13" cy="168.09" r="3.6"/><circle cx="470.55" cy="167.82" r="3.6"/><circle cx="470.97" cy="167.55" r="3.6"/><circle cx="471.40" cy="167.28" r="3.6"/><circle cx="471.83" cy="167.00" r="3.6"/><circle cx="472.27" cy="166.72" r="3.6"/><circle cx="472.71" cy="166.44" r="3.6"/><circle cx="473.16" cy="166.16" r="3.6"/><circle cx="473.61" cy="165.87" r="3.6"/><circle cx="474.07" cy="165.58" r="3.6"/><circle cx="474.53" cy="165.29" r="3.6"/><circle cx="475.00" cy="164.99" r="3.6"/><circle cx="475.47" cy="164.67" r="3.6"/><circle cx="475.95" cy="164.34" r="3.6"/><circle cx="476.44" cy="164.01" r="3.6"/><circle cx="476.93" cy="163.68" r="3.6"/><circle cx="477.26" cy="163.45" r="3.6"/><circle cx="477.59" cy="163.22" r="3.6"/><circle cx="477.93" cy="162.99" r="3.6"/><circle cx="478.27" cy="162.76" r="3.6"/><circle cx="478.61" cy="162.53" r="3.6"/><circle cx="478.96" cy="162.29" r="3.6"/><circle cx="479.31" cy="162.06" r="3.6"/><circle cx="479.66" cy="161.82" r="3.6"/><circle cx="480.01" cy="161.57" r="3.6"/><circle cx="480.37" cy="161.33" r="3.6"/><circle cx="480.74" cy="161.08" r="3.6"/><circle cx="481.10" cy="160.83" r="3.6"/><circle cx="481.47" cy="160.58" r="3.6"/><circle cx="481.84" cy="160.33" r="3.6"/><circle cx="482.22" cy="160.07" r="3.6"/><circle cx="482.60" cy="159.81" r="3.6"/><circle cx="482.99" cy="159.55" r="3.6"/><circle cx="483.38" cy="159.28" r="3.6"/><circle cx="483.77" cy="159.02" r="3.6"/><circle cx="484.17" cy="158.75" r="3.6"/><circle cx="484.57" cy="158.47" r="3.6"/><circle cx="484.97" cy="158.20" r="3.6"/><circle cx="485.38" cy="157.92" r="3.6"/><circle cx="485.80" cy="157.63" r="3.6"/><circle cx="486.22" cy="157.35" r="3.6"/><circle cx="486.64" cy="157.06" r="3.6"/><circle cx="487.07" cy="156.77" r="3.6"/><circle cx="487.51" cy="156.47" r="3.6"/><circle cx="487.95" cy="156.17" r="3.6"/><circle cx="488.39" cy="155.87" r="3.6"/><circle cx="488.84" cy="155.56" r="3.6"/><circle cx="489.30" cy="155.25" r="3.6"/><circle cx="489.77" cy="154.93" r="3.6"/><circle cx="490.24" cy="154.62" r="3.6"/><circle cx="490.71" cy="154.33" r="3.6"/><circle cx="491.19" cy="154.02" r="3.6"/><circle cx="491.68" cy="153.72" r="3.6"/><circle cx="492.18" cy="153.41" r="3.6"/><circle cx="492.68" cy="153.09" r="3.6"/><circle cx="493.19" cy="152.77" r="3.6"/><circle cx="493.71" cy="152.44" r="3.6"/><circle cx="494.24" cy="152.11" r="3.6"/><circle cx="494.77" cy="151.78" r="3.6"/><circle cx="495.32" cy="151.44" r="3.6"/><circle cx="495.87" cy="151.09" r="3.6"/><circle cx="496.43" cy="150.74" r="3.6"/><circle cx="497.00" cy="150.38" r="3.6"/><circle cx="497.58" cy="150.01" r="3.6"/><circle cx="498.17" cy="149.59" r="3.6"/><circle cx="498.78" cy="149.16" r="3.6"/><circle cx="499.39" cy="148.72" r="3.6"/><circle cx="500.02" cy="148.28" r="3.6"/><circle cx="500.65" cy="147.83" r="3.6"/><circle cx="501.30" cy="147.36" r="3.6"/><circle cx="501.63" cy="147.13" r="3.6"/><circle cx="501.97" cy="146.89" r="3.6"/><circle cx="502.30" cy="146.65" r="3.6"/><circle cx="502.64" cy="146.41" r="3.6"/><circle cx="502.99" cy="146.17" r="3.6"/><circle cx="503.33" cy="145.92" r="3.6"/><circle cx="503.69" cy="145.67" r="3.6"/><circle cx="504.04" cy="145.42" r="3.6"/><circle cx="504.40" cy="145.16" r="3.6"/><circle cx="504.76" cy="144.90" r="3.6"/><circle cx="505.13" cy="144.63" r="3.6"/><circle cx="505.50" cy="144.32" r="3.6"/><circle cx="505.88" cy="144.00" r="3.6"/><circle cx="506.26" cy="143.69" r="3.6"/><circle cx="506.65" cy="143.37" r="3.6"/><circle cx="507.04" cy="143.04" r="3.6"/><circle cx="507.43" cy="142.71" r="3.6"/><circle cx="507.83" cy="142.38" r="3.6"/><circle cx="508.24" cy="142.04" r="3.6"/><circle cx="508.65" cy="141.70" r="3.6"/><circle cx="509.07" cy="141.35" r="3.6"/><circle cx="509.49" cy="141.00" r="3.6"/><circle cx="509.92" cy="140.65" r="3.6"/><circle cx="510.35" cy="140.28" r="3.6"/><circle cx="510.79" cy="139.92" r="3.6"/><circle cx="511.24" cy="139.55" r="3.6"/><circle cx="511.70" cy="139.17" r="3.6"/><circle cx="512.16" cy="138.79" r="3.6"/><circle cx="512.62" cy="138.42" r="3.6"/><circle cx="513.10" cy="138.12" r="3.6"/><circle cx="513.58" cy="137.82" r="3.6"/><circle cx="514.07" cy="137.51" r="3.6"/><circle cx="514.57" cy="137.19" r="3.6"/><circle cx="515.08" cy="136.87" r="3.6"/><circle cx="515.60" cy="136.55" r="3.6"/><circle cx="516.12" cy="136.21" r="3.6"/><circle cx="516.66" cy="135.88" r="3.6"/><circle cx="517.20" cy="135.53" r="3.6"/><circle cx="517.76" cy="135.18" r="3.6"/><circle cx="518.33" cy="134.82" r="3.6"/><circle cx="518.90" cy="134.46" r="3.6"/><circle cx="519.49" cy="134.09" r="3.6"/><circle cx="520.09" cy="133.72" r="3.6"/><circle cx="520.71" cy="133.43" r="3.6"/><circle cx="521.34" cy="133.14" r="3.6"/><circle cx="521.98" cy="132.83" r="3.6"/><circle cx="522.64" cy="132.52" r="3.6"/><circle cx="523.31" cy="132.21" r="3.6"/><circle cx="524.00" cy="131.88" r="3.6"/><circle cx="524.71" cy="131.55" r="3.6"/><circle cx="525.43" cy="131.21" r="3.6"/><circle cx="526.17" cy="130.86" r="3.6"/><circle cx="526.94" cy="130.50" r="3.6"/><circle cx="527.73" cy="130.11" r="3.6"/><circle cx="528.54" cy="129.65" r="3.6"/><circle cx="529.37" cy="129.18" r="3.6"/><circle cx="530.23" cy="128.69" r="3.6"/><circle cx="531.12" cy="128.19" r="3.6"/><circle cx="532.04" cy="127.67" r="3.6"/><circle cx="532.99" cy="127.13" r="3.6"/><circle cx="533.98" cy="126.58" r="3.6"/><circle cx="535.00" cy="126.00" r="3.6"/><circle cx="536.07" cy="125.32" r="3.6"/><circle cx="537.18" cy="124.61" r="3.6"/><circle cx="538.35" cy="123.87" r="3.6"/><circle cx="539.56" cy="123.09" r="3.6"/><circle cx="540.84" cy="122.38" r="3.6"/><circle cx="542.19" cy="121.68" r="3.6"/><circle cx="543.61" cy="120.94" r="3.6"/></g><g fill="none" stroke="#000" stroke-width="1.15"><circle cx="99.20" cy="370.70" r="3.6"/><circle cx="118.98" cy="368.80" r="3.6"/><circle cx="128.69" cy="367.50" r="3.6"/><circle cx="135.29" cy="367.20" r="3.6"/><circle cx="140.33" cy="363.10" r="3.6"/><circle cx="144.44" cy="362.90" r="3.6"/><circle cx="147.90" cy="362.60" r="3.6"/><circle cx="150.91" cy="362.30" r="3.6"/><circle cx="153.57" cy="361.20" r="3.6"/><circle cx="155.97" cy="360.30" r="3.6"/><circle cx="158.14" cy="359.60" r="3.6"/><circle cx="545.11" cy="116.20" r="3.6"/><circle cx="546.71" cy="115.30" r="3.6"/><circle cx="548.43" cy="114.20" r="3.6"/><circle cx="550.27" cy="112.60" r="3.6"/><circle cx="552.26" cy="110.80" r="3.6"/><circle cx="554.43" cy="109.00" r="3.6"/><circle cx="556.83" cy="105.60" r="3.6"/><circle cx="559.49" cy="104.20" r="3.6"/><circle cx="562.50" cy="102.80" r="3.6"/><circle cx="565.96" cy="101.00" r="3.6"/><circle cx="570.07" cy="99.80" r="3.6"/><circle cx="575.11" cy="98.60" r="3.6"/><circle cx="581.71" cy="98.10" r="3.6"/><circle cx="591.42" cy="89.80" r="3.6"/><circle cx="611.20" cy="90.05" r="3.6"/></g><line x1="123.1" y1="382.08" x2="614.1" y2="78.72" stroke="#000" stroke-width="1"/><text transform="translate(355.2 46.9) scale(1 1.065)" font-size="19.2" font-weight="bold" text-anchor="middle">Transfromation to nearly independent unvariate sample, Q-Q plot</text><text x="79.85" y="416.6" font-size="16" text-anchor="middle">-4</text><text x="217.53" y="416.6" font-size="16" text-anchor="middle">-2</text><text x="355.2" y="416.6" font-size="16" text-anchor="middle">0</text><text x="492.87" y="416.6" font-size="16" text-anchor="middle">2</text><text x="630.55" y="416.6" font-size="16" text-anchor="middle">4</text><text x="355.2" y="455.6" font-size="16" text-anchor="middle">Theoretical Quantiles</text><text transform="translate(55.6 111.96) rotate(-90)" font-size="16" text-anchor="middle">3</text><text transform="translate(55.6 154.44) rotate(-90)" font-size="16" text-anchor="middle">2</text><text transform="translate(55.6 196.93) rotate(-90)" font-size="16" text-anchor="middle">1</text><text transform="translate(55.6 239.41) rotate(-90)" font-size="16" text-anchor="middle">0</text><text transform="translate(55.6 281.90) rotate(-90)" font-size="16" text-anchor="middle">-1</text><text transform="translate(55.6 324.38) rotate(-90)" font-size="16" text-anchor="middle">-2</text><text transform="translate(55.6 366.86) rotate(-90)" font-size="16" text-anchor="middle">-3</text><text transform="translate(16.9 230.9) rotate(-90)" font-size="16" text-anchor="middle">Sample Quantiles</text>
</svg></body></html>
